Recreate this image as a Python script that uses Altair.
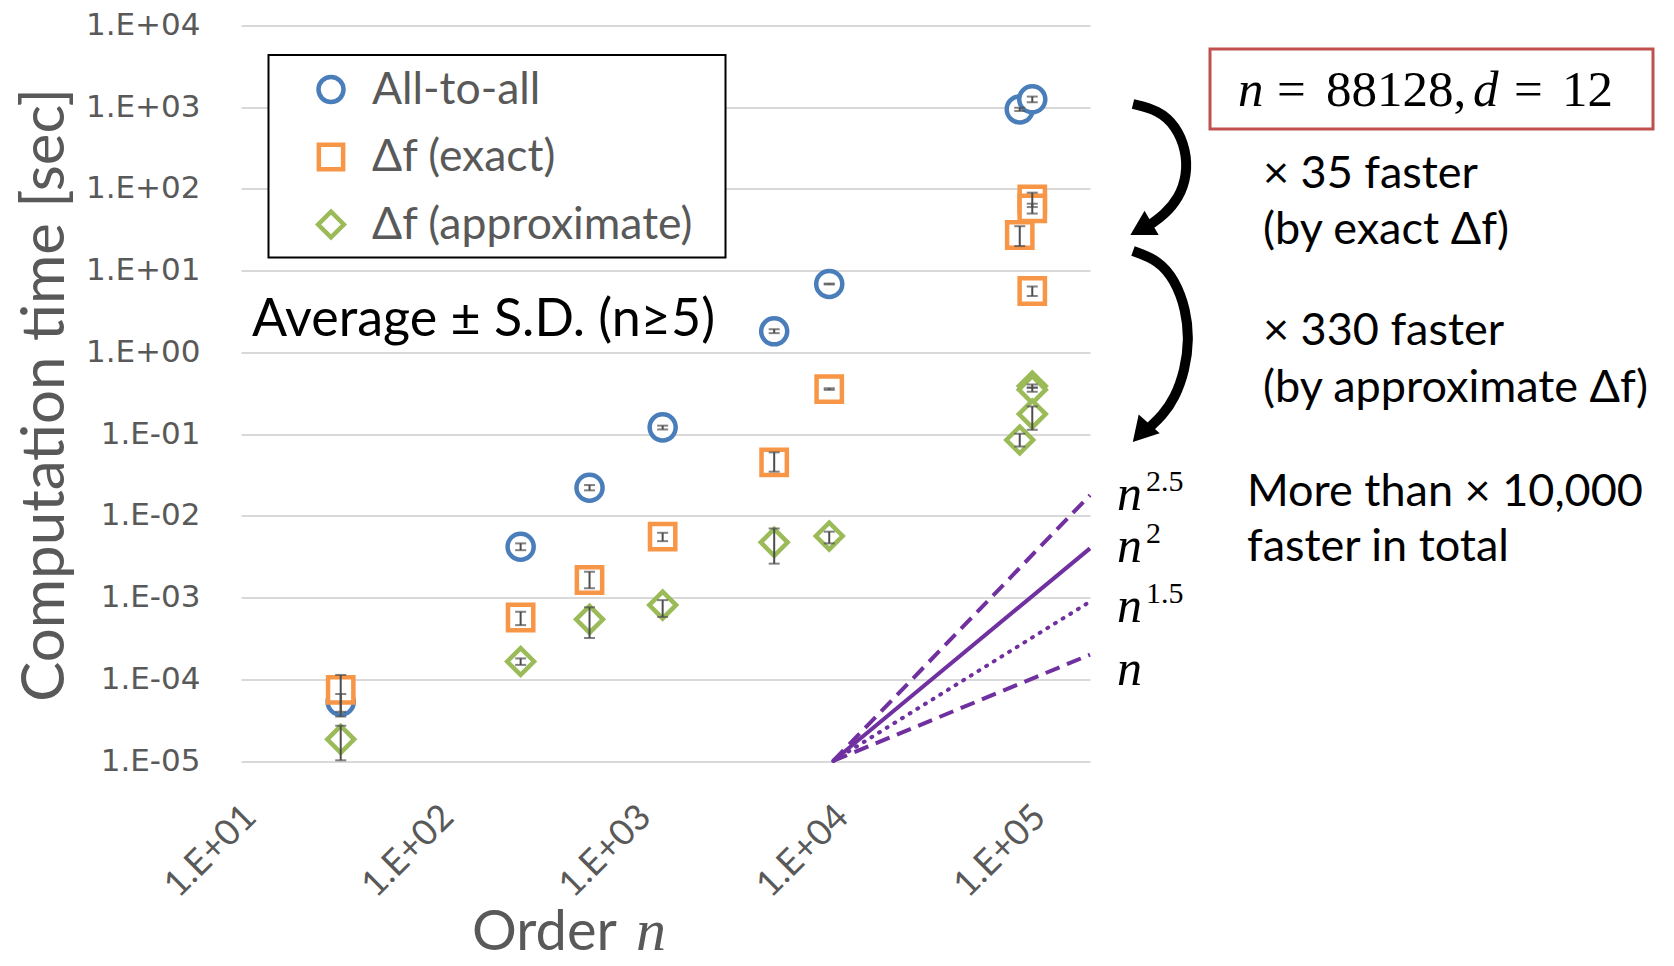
import altair as alt
import pandas as pd

# ---------------- data ----------------
series_names = ["All-to-all", "Δf (exact)", "Δf (approximate)"]
series_colors = ["#4a7ebb", "#f79646", "#9bbb59"]
series_shapes = ["circle", "square", "diamond"]

n_all = [32, 261, 583, 1368, 5025, 9550, 88128, 102000]
t_all = [5.3e-5, 4.19e-3, 0.0221, 0.121, 1.81, 6.87, 942, 1250]
lo_all = [4.0e-5, 3.8e-3, 0.0205, 0.114, 1.72, 6.78, 900, 1150]
hi_all = [6.6e-5, 4.6e-3, 0.0238, 0.127, 1.92, 6.95, 985, 1350]

n_ex = [32, 261, 583, 1368, 5025, 9550, 88128, 102000, 102000, 102000]
t_ex = [7.4e-5, 5.7e-4, 1.64e-3, 5.56e-3, 0.0452, 0.356, 27.3, 74.7, 58.0, 5.64]
lo_ex = [3.5e-5, 4.6e-4, 1.3e-3, 4.9e-3, 0.0347, 0.348, 20.0, 60.0, 50.0, 4.9]
hi_ex = [1.13e-4, 6.7e-4, 2.07e-3, 6.2e-3, 0.0598, 0.364, 35.0, 90.0, 66.0, 6.4]

n_ap = [32, 261, 583, 1368, 5025, 9550, 88128, 102000, 102000, 102000]
t_ap = [1.84e-5, 1.65e-4, 5.42e-4, 8.1e-4, 4.74e-3, 5.66e-3, 0.0847, 0.388, 0.35, 0.176]
lo_ap = [1.02e-5, 1.5e-4, 3.2e-4, 5.8e-4, 2.6e-3, 4.6e-3, 0.0705, 0.37, 0.33, 0.113]
hi_ap = [2.7e-5, 1.8e-4, 7.6e-4, 9.3e-4, 7.0e-3, 6.4e-3, 0.101, 0.405, 0.37, 0.218]

# guide lines n^k, from n = 1e4 to the right edge
power_names = ["n", "n^1.5", "n^2", "n^2.5"]
power_dash = [[15, 8], [1, 8], [1, 0], [15, 8]]
power_n = [1e4, 2e5]
power_start = [1e-5, 1e-5, 1e-5, 1e-5]
power_end = [2.0e-4, 8.9e-4, 4.0e-3, 1.79e-2]

x_ticks = [10, 100, 1000, 10000, 100000]
x_labels = ["1.E+01", "1.E+02", "1.E+03", "1.E+04", "1.E+05"]
y_ticks = [1e-5, 1e-4, 1e-3, 1e-2, 1e-1, 1, 10, 100, 1000, 10000]
y_labels = ["1.E-05", "1.E-04", "1.E-03", "1.E-02", "1.E-01",
            "1.E+00", "1.E+01", "1.E+02", "1.E+03", "1.E+04"]

# ---------------- layout constants ----------------
OX, OY = 241, 25.5          # page position of plot origin
W, H = 849, 735.5
GRAY = "#595959"
SANS = "Lato"
SERIF = "Liberation Serif"


def px(x):
    return x - OX


def py(y):
    return y - OY


one = pd.DataFrame({"a": [0]})

xscale = alt.Scale(type="log", domain=[10, 200000], nice=False)
yscale = alt.Scale(type="log", domain=[1e-5, 1e4], nice=False)

xlab_expr = "[" + ",".join("'%s'" % s for s in x_labels) + "][round(log(datum.value)/LN10) - 1]"
ylab_expr = "[" + ",".join("'%s'" % s for s in y_labels) + "][round(log(datum.value)/LN10) + 5]"

X = alt.X("n:Q", scale=xscale, axis=alt.Axis(
    values=x_ticks, labelExpr=xlab_expr, title=None, grid=False, ticks=False,
    domain=False, labelAngle=315, labelAlign="right", labelBaseline="middle",
    labelPadding=50, labelOffset=9, labelFont=SANS, labelFontSize=36,
    labelColor=GRAY, labelOverlap=False))
Y = alt.Y("t:Q", scale=yscale, axis=alt.Axis(
    values=y_ticks, labelExpr=ylab_expr, title=None, grid=True, gridColor="#d9d9d9",
    gridWidth=2, ticks=False, domain=False, labelPadding=41, labelFont="DejaVu Sans",
    labelFontSize=31, labelColor=GRAY, labelOverlap=False))

layers = []

# power-law guide lines
prows = []
for i, name in enumerate(power_names):
    prows.append({"name": name, "n": power_n[0], "t": power_start[i]})
    prows.append({"name": name, "n": power_n[1], "t": power_end[i]})
pdf = pd.DataFrame(prows)
for i, name in enumerate(power_names):
    m = dict(color="#7030a0", strokeWidth=4, strokeCap="round" if i == 1 else "butt")
    if power_dash[i] != [1, 0]:
        m["strokeDash"] = power_dash[i]
    layers.append(alt.Chart(pdf[pdf.name == name]).mark_line(**m).encode(x=X, y=Y))

# series markers
series_data = [(n_all, t_all, lo_all, hi_all), (n_ex, t_ex, lo_ex, hi_ex), (n_ap, t_ap, lo_ap, hi_ap)]
dfs = []
for k, (nn, tt, lo, hi) in enumerate(series_data):
    dfs.append(pd.DataFrame({"n": nn, "t": tt, "lo": lo, "hi": hi, "s": series_names[k]}))

sizes = [680, 640, 720]
for k, df in enumerate(dfs):
    layers.append(alt.Chart(df).mark_point(
        shape=series_shapes[k], size=sizes[k], filled=True, fill="white", fillOpacity=1,
        stroke=series_colors[k], strokeWidth=4.5, opacity=1).encode(x=X, y=Y))

# error bars on top
EB = "#4d4d4d"
for df in dfs:
    base = alt.Chart(df)
    layers.append(base.mark_rule(color=EB, strokeWidth=2).encode(
        x=X, y=alt.Y("lo:Q", scale=yscale), y2="hi:Q"))
    layers.append(base.mark_tick(orient="horizontal", size=11, thickness=2, color=EB).encode(
        x=X, y=alt.Y("lo:Q", scale=yscale)))
    layers.append(base.mark_tick(orient="horizontal", size=11, thickness=2, color=EB).encode(
        x=X, y=alt.Y("hi:Q", scale=yscale)))

# legend box
layers.append(alt.Chart(one).mark_rect(fill="white", stroke="black", strokeWidth=2).encode(
    x=alt.value(px(268.5)), x2=alt.value(px(725.5)), y=alt.value(py(55)), y2=alt.value(py(257.5))))
leg_y = [89.5, 157, 224.5]
for k in range(3):
    layers.append(alt.Chart(one).mark_point(
        shape=series_shapes[k], size=sizes[k] * 0.92, filled=True, fill="white", fillOpacity=1,
        stroke=series_colors[k], strokeWidth=4.5, opacity=1).encode(
        x=alt.value(px(331)), y=alt.value(py(leg_y[k]))))
    layers.append(alt.Chart(one).mark_text(
        text=series_names[k], font=SANS, fontSize=44.5, color=GRAY, align="left",
        baseline="middle").encode(x=alt.value(px(372)), y=alt.value(py(leg_y[k] + 1))))


def text(txt, x, y, **kw):
    opts = dict(font=SANS, fontSize=45, color="black", align="left", baseline="alphabetic")
    opts.update(kw)
    return alt.Chart(one).mark_text(text=txt, **opts).encode(x=alt.value(px(x)), y=alt.value(py(y)))


layers.append(text("Average ± S.D. (n≥5)", 252, 336, fontSize=52))

# red box with n, d
layers.append(alt.Chart(one).mark_rect(fill="white", stroke="#c0504d", strokeWidth=3).encode(
    x=alt.value(px(1210)), x2=alt.value(px(1653)), y=alt.value(py(49)), y2=alt.value(py(129))))
box_parts = [("n", 1238, "italic"), ("=", 1277, "normal"), ("88128,", 1326, "normal"),
             ("d", 1473, "italic"), ("=", 1514, "normal"), ("12", 1562, "normal")]
for s, x, st in box_parts:
    layers.append(text(s, x, 106, font=SERIF, fontSize=51, fontStyle=st))

layers.append(text("× 35 faster", 1263, 188))
layers.append(text("(by exact Δf)", 1263, 244))
layers.append(text("× 330 faster", 1263, 345))
layers.append(text("(by approximate Δf)", 1263, 402))
layers.append(text("More than × 10,000", 1247, 506))
layers.append(text("faster in total", 1247, 561))

# power labels
pl_base = [685, 622, 562, 510]
pl_sup = ["", "1.5", "2", "2.5"]
for i in range(4):
    layers.append(text("n", 1117, pl_base[i], font=SERIF, fontStyle="italic", fontSize=50))
    if pl_sup[i]:
        layers.append(text(pl_sup[i], 1146, pl_base[i] - 19, font=SERIF, fontSize=30))

# axis titles
layers.append(text("Computation time [sec]", 64, 395, fontSize=60, color=GRAY,
                   align="center", angle=270))
layers.append(text("Order", 472, 950, fontSize=56, color=GRAY))
layers.append(text("n", 636, 950, font=SERIF, fontStyle="italic", fontSize=60, color=GRAY))

# curved arrows
arrow1 = [(1133, 104), (1158, 110), (1176, 126), (1186, 150), (1187, 175), (1179, 198), (1164, 215), (1151, 224)]
arrow2 = [(1133, 251), (1158, 260), (1175, 280), (1186, 310), (1189, 340), (1185, 370), (1175, 398), (1162, 416), (1150, 427)]
arows = []
for a, pts in enumerate([arrow1, arrow2]):
    for i, (x, y) in enumerate(pts):
        arows.append({"arrow": a, "i": i, "px": px(x), "py": py(y)})
adf = pd.DataFrame(arows)
layers.append(alt.Chart(adf).mark_line(color="black", strokeWidth=10, interpolate="basis").encode(
    x=alt.X("px:Q", scale=None), y=alt.Y("py:Q", scale=None), order="i:Q", detail="arrow:N"))
heads = [(1141, 229, 240), (1141, 433, 222)]
for hx, hy, ang in heads:
    layers.append(alt.Chart(one).mark_point(shape="triangle-up", size=800, filled=True, color="black",
                                            opacity=1, angle=ang).encode(
        x=alt.value(px(hx)), y=alt.value(py(hy))))

chart = alt.layer(*layers).properties(
    width=W, height=H,
    padding={"left": OX - 8, "top": OY - 8, "right": 574, "bottom": 197},
    autosize=alt.AutoSizeParams(type="none"),
    background="white",
).configure_view(strokeWidth=0)

chart.save("out.html", embed_options={"renderer": "svg", "actions": False})
